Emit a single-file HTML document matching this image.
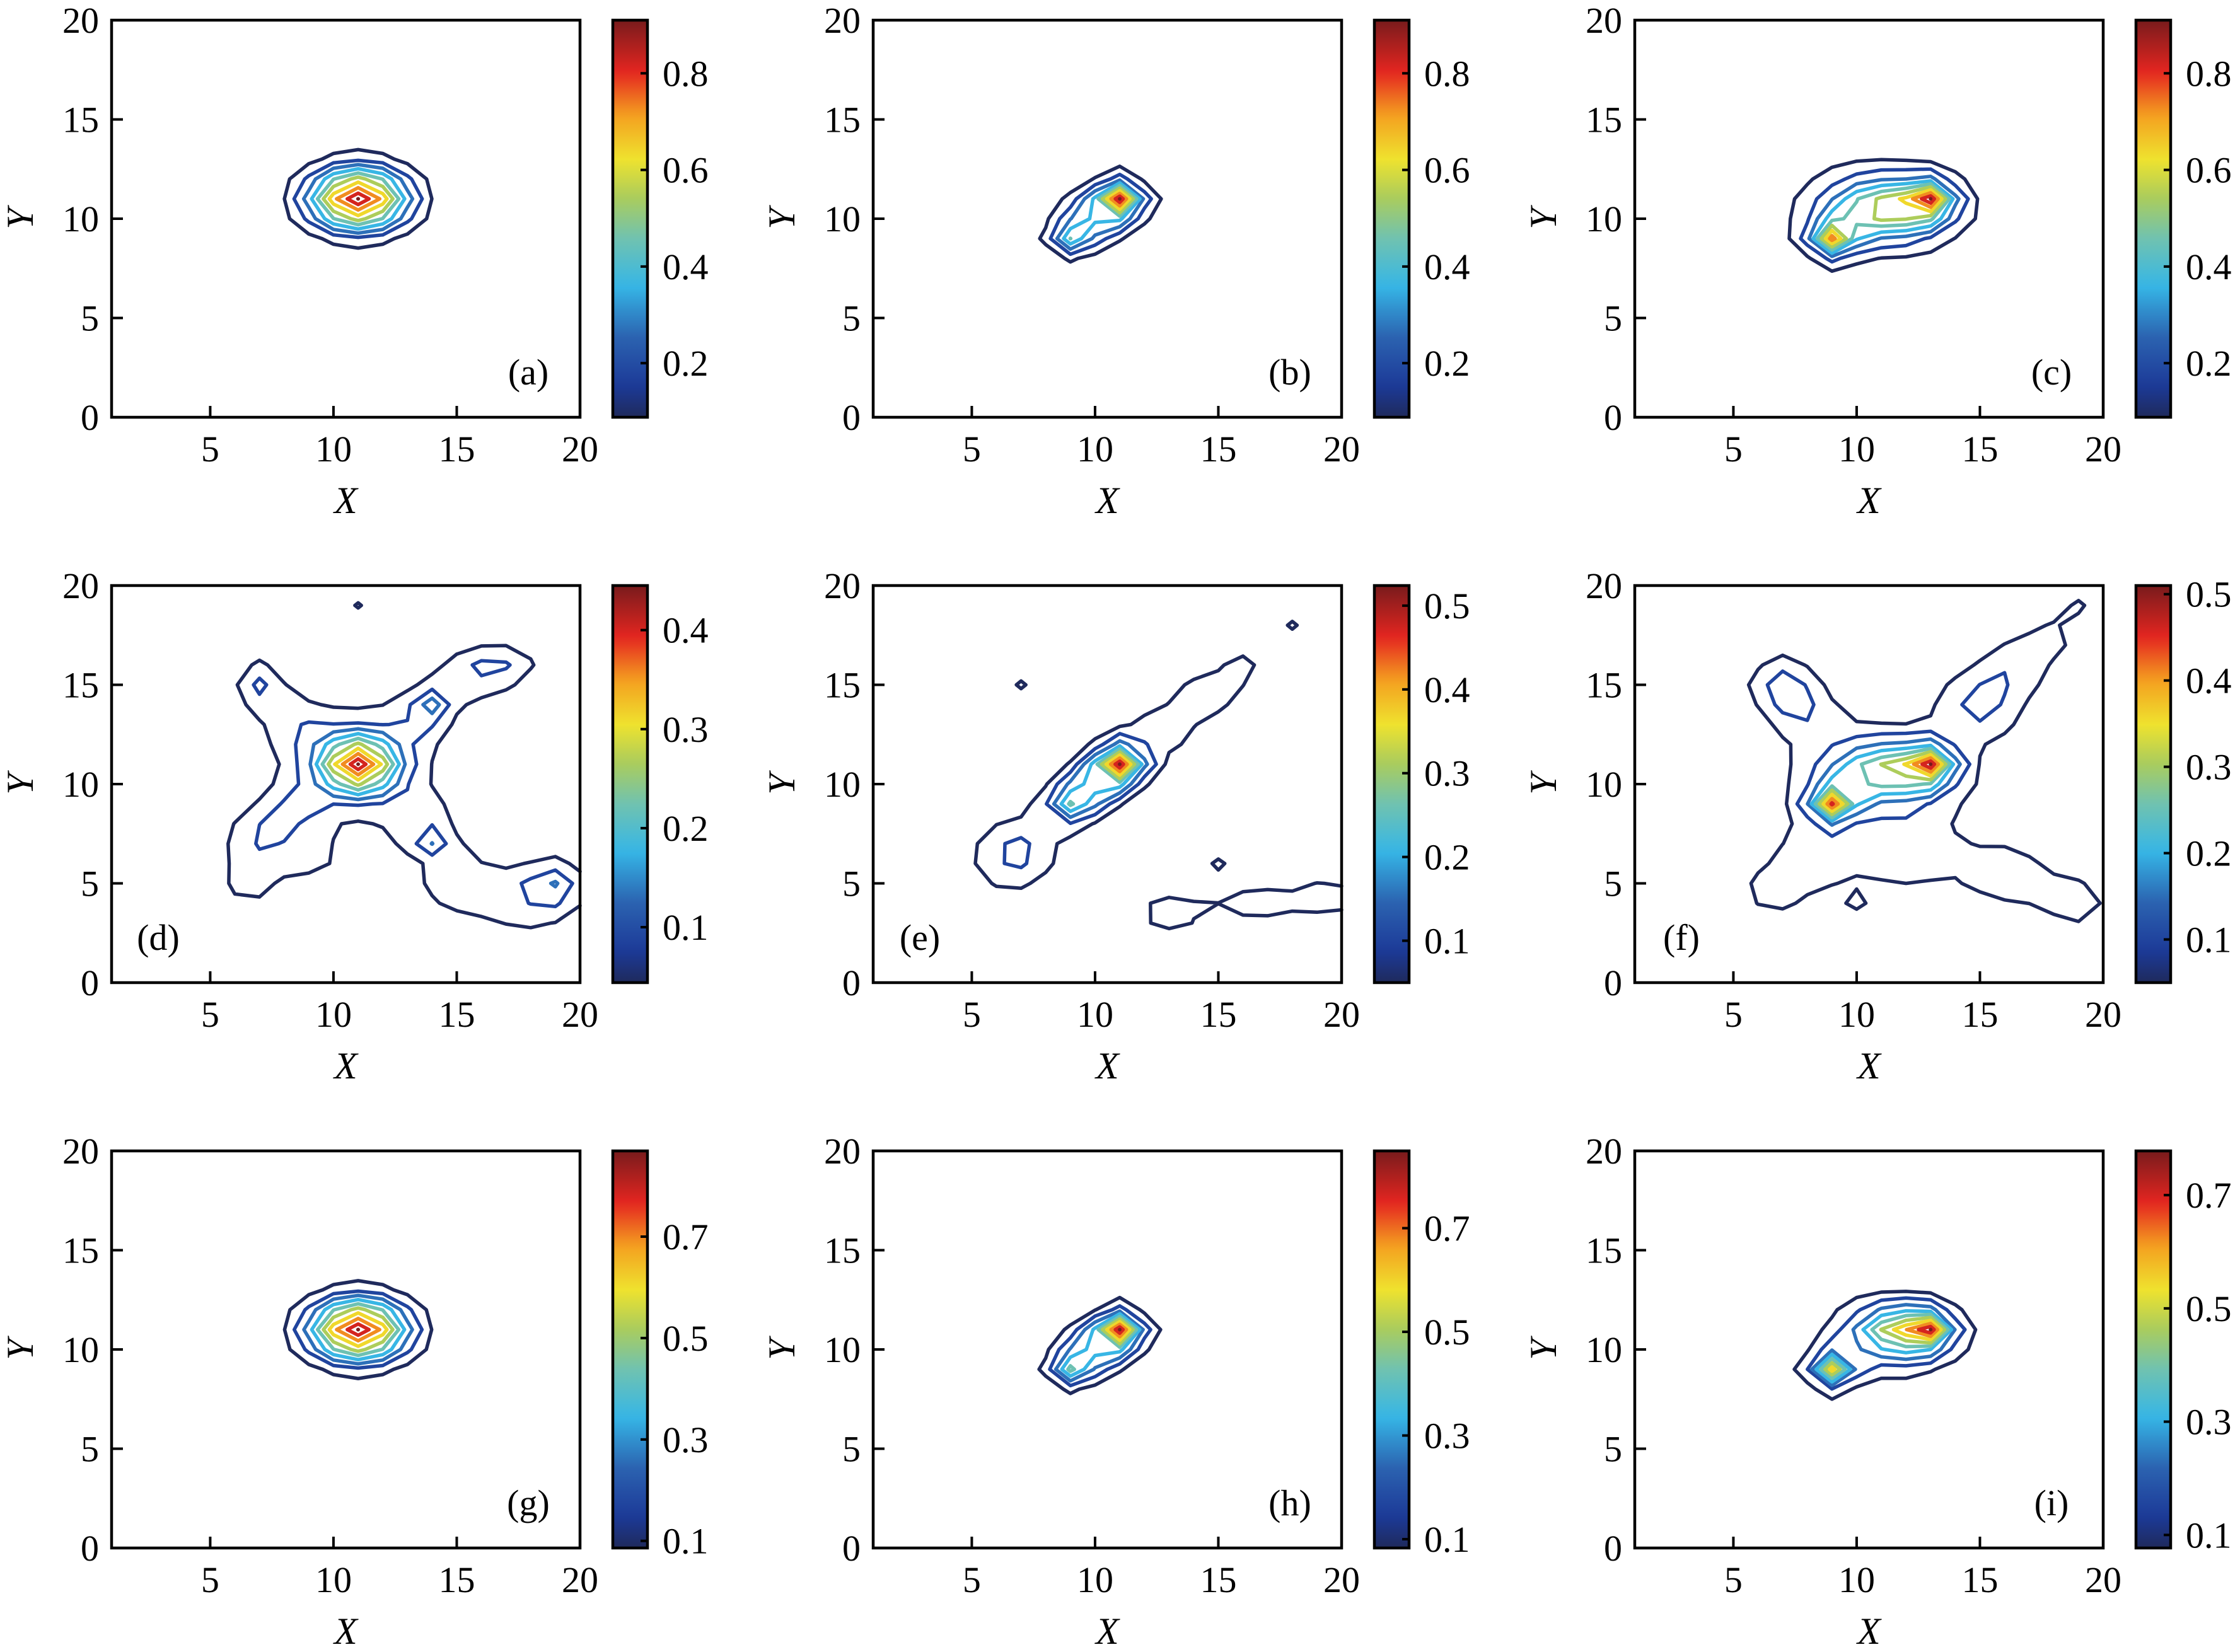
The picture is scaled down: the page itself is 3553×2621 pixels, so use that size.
<!DOCTYPE html>
<html><head><meta charset="utf-8"><style>
html,body{margin:0;padding:0;background:#fff}
svg{display:block}
text{font-family:"Liberation Serif",serif;fill:#000}
</style></head><body>
<svg id="fig" width="3553" height="2621" viewBox="0 0 3553 2621" xmlns="http://www.w3.org/2000/svg">
<defs id="defs"></defs>
</svg>
<script>
// ---- data per panel ----
const panelLabels = ["(a)","(b)","(c)","(d)","(e)","(f)","(g)","(h)","(i)"];
const cMin = [0.088,0.088,0.088,0.044,0.05,0.05,0.086,0.083,0.077];
const cMax = [0.91,0.91,0.91,0.445,0.524,0.51,0.869,0.849,0.778];
const cbTicks = [
 [0.2,0.4,0.6,0.8],[0.2,0.4,0.6,0.8],[0.2,0.4,0.6,0.8],
 [0.1,0.2,0.3,0.4],[0.1,0.2,0.3,0.4,0.5],[0.1,0.2,0.3,0.4,0.5],
 [0.1,0.3,0.5,0.7],[0.1,0.3,0.5,0.7],[0.1,0.3,0.5,0.7]];
// Gaussian peaks: [x, y, amplitude, sigmaX, sigmaY]
const peaksA = [[11,11,0.92,1.38,1.06]];
const peaksB = [[11,11,0.78,0.6,0.6],[9,9,0.37,0.6,0.6],[10,10,0.2,0.8,0.8],[10.2,10.3,0.12,1.4,1.1]];
const peaksC = [[13,11,0.45,0.6,0.6],[9,9,0.5,0.6,0.6],[11.3,10.5,0.3,1.5,0.9],[11,10.5,0.2,2.2,1.6]];
const peaksD = [[11,11,0.33,1.0,0.9],[11,11,0.11,2.0,1.8],
 [7,15,0.1,0.7,0.9],[8.5,13,0.06,1.0,1.0],[13.5,13.5,0.06,1.0,1.0],[14,14,0.1,0.5,0.6],[15.5,15.5,0.07,1.0,1.0],[17,16,0.075,1.0,0.8],[18,17.7,0.05,0.4,0.4],
 [7,7.5,0.075,1.0,1.0],[6.5,5,0.058,0.9,1.2],[9,6.3,0.056,1.2,1.0],[8.5,8.8,0.07,0.9,0.9],[13.5,8.2,0.07,1.0,0.9],[14,7,0.09,0.6,0.5],[15,5,0.062,1.5,1.3],[18,4,0.062,1.5,1.3],[19,5,0.1,0.8,0.8],[11,19,0.05,0.25,0.25]];
const peaksE = [[11,11,0.42,0.65,0.65],[9,9,0.2,0.7,0.7],[10,10,0.15,0.9,0.9],[12.5,12.5,0.07,1.2,1.0],[14.5,14.5,0.065,1.2,1.0],[16,16,0.055,0.7,0.7],[7,7,0.065,1.1,1.1],[6.5,6,0.065,1.2,1.2],
 [13,3.5,0.07,1.2,0.8],[16.5,4,0.068,1.2,0.8],[19.5,4.3,0.068,1.2,0.8],[15,6,0.056,0.5,0.4],[12.5,6.5,0.06,0.5,0.5],[7,15,0.056,0.25,0.25],[18,18,0.056,0.25,0.25]];
const peaksF = [[13,11,0.3,0.6,0.6],[9,9,0.36,0.6,0.6],[11.3,10.7,0.18,1.5,0.9],[11,10.5,0.12,2.4,1.7],
 [7,15,0.12,0.9,1.0],[8,13.5,0.07,1.0,1.0],[15,14,0.11,1.2,1.2],[16.5,16,0.08,1.0,1.0],[18,17.5,0.06,0.8,0.8],[19,19,0.056,0.35,0.35],
 [8,6,0.065,1.5,1.5],[12,6.5,0.07,1.5,1.5],[16,5.5,0.065,1.5,1.5],[19,4,0.06,1.2,1.2],[6.5,4.5,0.055,0.8,0.8],[10,3.8,0.056,0.3,0.3]];
const peaksG = [[11,11,0.87,1.38,1.06]];
const peaksH = [[11,11,0.68,0.6,0.6],[9,9,0.35,0.6,0.6],[10,10,0.18,0.8,0.8],[10.2,10.2,0.11,1.3,1.0]];
const peaksI = [[13,11,0.35,0.55,0.55],[9,9,0.45,0.6,0.6],[11.8,11,0.3,1.2,0.8],[11.5,10.6,0.16,1.9,1.4]];
const allPeaks = [peaksA,peaksB,peaksC,peaksD,peaksE,peaksF,peaksG,peaksH,peaksI];
const xTicks = [5,10,15,20];
const yTicks = [0,5,10,15,20];
const nLevels = 10;

// ---- layout ----
const NS="http://www.w3.org/2000/svg";
const svg=document.getElementById('fig');
const colL=[177,1385,2593], rowT=[32,929,1826];
const AW=743, AH=630, CBX=795, CBW=55;
const X0=1,X1=20,Y0=0,Y1=20;
const FS=58;
const cmap=[[0,"#1f2a5c"],[0.08,"#1c3a98"],[0.2,"#2b62b0"],[0.33,"#36b6e6"],[0.45,"#70c2b0"],[0.55,"#a9cc5e"],[0.65,"#efe22e"],[0.76,"#f4a020"],[0.87,"#e42520"],[1,"#781b1c"]];
function hex(h){return [1,3,5].map(i=>parseInt(h.substr(i,2),16));}
function color(t){t=Math.max(0,Math.min(1,t));for(let i=1;i<cmap.length;i++){if(t<=cmap[i][0]){const a=cmap[i-1],b=cmap[i];const u=(t-a[0])/(b[0]-a[0]);const ca=hex(a[1]),cb=hex(b[1]);return "rgb("+ca.map((v,k)=>Math.round(v+(cb[k]-v)*u)).join(",")+")";}}return cmap[cmap.length-1][1];}
function mk(tag,attrs,parent){const e=document.createElementNS(NS,tag);for(const k in attrs)e.setAttribute(k,attrs[k]);(parent||svg).appendChild(e);return e;}

const defs=document.getElementById('defs');
const grad=mk('linearGradient',{id:'jet',x1:0,y1:1,x2:0,y2:0},defs);
for(let i=0;i<=40;i++){mk('stop',{offset:i/40,'stop-color':color(i/40)},grad);}

function field(peaks,x,y){let s=0;for(const p of peaks){s+=p[2]*Math.exp(-((x-p[0])**2/(2*p[3]*p[3])+(y-p[1])**2/(2*p[4]*p[4])));}return s;}

for(let pi=0;pi<9;pi++){
  const L=colL[pi%3], T=rowT[Math.floor(pi/3)];
  const g=mk('g',{});
  
  
  const sx=v=>L+(v-X0)/(X1-X0)*AW, sy=v=>T+AH-(v-Y0)/(Y1-Y0)*AH;
  const xs=[],ys=[];for(let x=X0;x<=X1;x++)xs.push(x);for(let y=Y0;y<=Y1;y++)ys.push(y);
  let Z=ys.map(y=>xs.map(x=>field(allPeaks[pi],x,y)));
  // peak of the field is matched to the colorbar maximum
  let zmax=0;Z.forEach(r=>r.forEach(v=>{if(v>zmax)zmax=v;}));
  const sc=cMax[pi]*1.002/zmax;
  Z=Z.map(r=>r.map(v=>v*sc));
  const cg=mk('g',{},g);
  
  
  for(let k=0;k<nLevels;k++){
    const lev=cMin[pi]+(cMax[pi]-cMin[pi])*k/(nLevels-1);
    let d="";
    for(let j=0;j<ys.length-1;j++)for(let i=0;i<xs.length-1;i++){
      const v=[Z[j][i],Z[j][i+1],Z[j+1][i+1],Z[j+1][i]];
      const P=[[xs[i],ys[j]],[xs[i+1],ys[j]],[xs[i+1],ys[j+1]],[xs[i],ys[j+1]]];
      const pts=[];
      for(let e=0;e<4;e++){const a=v[e],b=v[(e+1)%4];if((a<lev)!==(b<lev)){const u=(lev-a)/(b-a);const pa=P[e],pb=P[(e+1)%4];pts.push([pa[0]+(pb[0]-pa[0])*u,pa[1]+(pb[1]-pa[1])*u]);}}
      for(let q=0;q+1<pts.length;q+=2){d+="M"+sx(pts[q][0]).toFixed(1)+" "+sy(pts[q][1]).toFixed(1)+"L"+sx(pts[q+1][0]).toFixed(1)+" "+sy(pts[q+1][1]).toFixed(1);}
    }
    if(d){const p=mk('path',{d:d,fill:'none',stroke:color(k/(nLevels-1)),'stroke-width':5.5,'stroke-linecap':'round','stroke-linejoin':'round'},cg);
      
      }
  }
  const box=mk('rect',{x:L,y:T,width:AW,height:AH,fill:'none',stroke:'#000','stroke-width':4.5},g);
  
  
  for(const t of xTicks){
    if(t<20){const tl=mk('line',{x1:sx(t),x2:sx(t),y1:T+AH,y2:T+AH-18,stroke:'#000','stroke-width':4},g);
      
      }
    const tx=mk('text',{x:sx(t),y:T+AH+70,'font-size':FS,'text-anchor':'middle'},g);tx.textContent=t;
    
    
  }
  for(const t of yTicks){
    if(t>0&&t<20){const tl=mk('line',{x1:L,x2:L+18,y1:sy(t),y2:sy(t),stroke:'#000','stroke-width':4},g);
      
      }
    const ty=mk('text',{x:L-20,y:sy(t)+20,'font-size':FS,'text-anchor':'end'},g);ty.textContent=t;
    
    
  }
  const xl=mk('text',{x:L+AW/2,y:T+AH+152,'font-size':60,'font-style':'italic','text-anchor':'middle'},g);xl.textContent='X';
  
  
  const yl=mk('text',{x:0,y:0,'font-size':60,'font-style':'italic','text-anchor':'middle',transform:'translate('+(L-125)+','+(T+AH/2)+') rotate(-90)'},g);yl.textContent='Y';
  
  
  const row=Math.floor(pi/3);
  const lb=mk('text',{x:row===1?L+74:L+AW-82,y:T+AH-52,'font-size':FS,'text-anchor':'middle'},g);lb.textContent=panelLabels[pi];
  
  
  const cx=L+CBX;
  const cb=mk('rect',{x:cx,y:T,width:CBW,height:AH,fill:'url(#jet)',stroke:'#000','stroke-width':4.5},g);
  
  
  const cy=v=>T+AH-(v-cMin[pi])/(cMax[pi]-cMin[pi])*AH;
  for(const t of cbTicks[pi]){
    const tl=mk('line',{x1:cx+CBW,x2:cx+CBW-11,y1:cy(t),y2:cy(t),stroke:'#000','stroke-width':4},g);
    
    
    const tt=mk('text',{x:cx+CBW+24,y:cy(t)+20,'font-size':FS},g);tt.textContent=t.toFixed(1);
    
    
  }
}
</script>
</body></html>
